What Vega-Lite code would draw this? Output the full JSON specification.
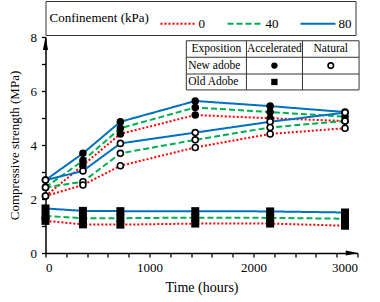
{
  "$schema": "https://vega.github.io/schema/vega-lite/v6.json",
  "width": 312,
  "height": 216,
  "autosize": {"type": "none"},
  "padding": {"left": 45.5, "top": 37, "right": 22.5, "bottom": 49},
  "config": {
    "font": "Liberation Serif",
    "view": {"stroke": null},
    "text": {"font": "Liberation Serif"},
    "axis": {"labelFont": "Liberation Serif", "titleFont": "Liberation Serif"},
    "legend": {
      "orient": "top",
      "direction": "horizontal",
      "titleOrient": "left",
      "titleFont": "Liberation Serif",
      "labelFont": "Liberation Serif",
      "titleFontSize": 13,
      "titleFontWeight": "normal",
      "titleColor": "black",
      "labelFontSize": 13,
      "labelColor": "black",
      "symbolType": "stroke",
      "symbolSize": 1225,
      "symbolStrokeWidth": 2,
      "strokeColor": "#333333",
      "fillColor": "white",
      "padding": 4,
      "offset": 2,
      "titlePadding": 10,
      "columnPadding": 18,
      "labelOffset": 2
    }
  },
  "data": {
    "values": [
      {"t": 0, "s": 1.65, "conf": "80", "sample": "Old Adobe", "exp": "Accelerated"},
      {"t": 360, "s": 1.56, "conf": "80", "sample": "Old Adobe", "exp": "Accelerated"},
      {"t": 720, "s": 1.55, "conf": "80", "sample": "Old Adobe", "exp": "Accelerated"},
      {"t": 1440, "s": 1.55, "conf": "80", "sample": "Old Adobe", "exp": "Accelerated"},
      {"t": 2160, "s": 1.54, "conf": "80", "sample": "Old Adobe", "exp": "Accelerated"},
      {"t": 2880, "s": 1.50, "conf": "80", "sample": "Old Adobe", "exp": "Accelerated"},
      {"t": 0, "s": 1.37, "conf": "40", "sample": "Old Adobe", "exp": "Accelerated"},
      {"t": 360, "s": 1.29, "conf": "40", "sample": "Old Adobe", "exp": "Accelerated"},
      {"t": 720, "s": 1.29, "conf": "40", "sample": "Old Adobe", "exp": "Accelerated"},
      {"t": 1440, "s": 1.31, "conf": "40", "sample": "Old Adobe", "exp": "Accelerated"},
      {"t": 2160, "s": 1.30, "conf": "40", "sample": "Old Adobe", "exp": "Accelerated"},
      {"t": 2880, "s": 1.27, "conf": "40", "sample": "Old Adobe", "exp": "Accelerated"},
      {"t": 0, "s": 1.19, "conf": "0", "sample": "Old Adobe", "exp": "Accelerated"},
      {"t": 360, "s": 1.06, "conf": "0", "sample": "Old Adobe", "exp": "Accelerated"},
      {"t": 720, "s": 1.05, "conf": "0", "sample": "Old Adobe", "exp": "Accelerated"},
      {"t": 1440, "s": 1.09, "conf": "0", "sample": "Old Adobe", "exp": "Accelerated"},
      {"t": 2160, "s": 1.09, "conf": "0", "sample": "Old Adobe", "exp": "Accelerated"},
      {"t": 2880, "s": 1.01, "conf": "0", "sample": "Old Adobe", "exp": "Accelerated"},
      {"t": 0, "s": 2.70, "conf": "80", "sample": "New adobe", "exp": "Accelerated"},
      {"t": 360, "s": 3.69, "conf": "80", "sample": "New adobe", "exp": "Accelerated"},
      {"t": 720, "s": 4.86, "conf": "80", "sample": "New adobe", "exp": "Accelerated"},
      {"t": 1440, "s": 5.63, "conf": "80", "sample": "New adobe", "exp": "Accelerated"},
      {"t": 2160, "s": 5.44, "conf": "80", "sample": "New adobe", "exp": "Accelerated"},
      {"t": 2880, "s": 5.22, "conf": "80", "sample": "New adobe", "exp": "Accelerated"},
      {"t": 0, "s": 2.43, "conf": "40", "sample": "New adobe", "exp": "Accelerated"},
      {"t": 360, "s": 3.42, "conf": "40", "sample": "New adobe", "exp": "Accelerated"},
      {"t": 720, "s": 4.62, "conf": "40", "sample": "New adobe", "exp": "Accelerated"},
      {"t": 1440, "s": 5.39, "conf": "40", "sample": "New adobe", "exp": "Accelerated"},
      {"t": 2160, "s": 5.22, "conf": "40", "sample": "New adobe", "exp": "Accelerated"},
      {"t": 2880, "s": 5.05, "conf": "40", "sample": "New adobe", "exp": "Accelerated"},
      {"t": 0, "s": 2.11, "conf": "0", "sample": "New adobe", "exp": "Accelerated"},
      {"t": 360, "s": 3.25, "conf": "0", "sample": "New adobe", "exp": "Accelerated"},
      {"t": 720, "s": 4.41, "conf": "0", "sample": "New adobe", "exp": "Accelerated"},
      {"t": 1440, "s": 5.11, "conf": "0", "sample": "New adobe", "exp": "Accelerated"},
      {"t": 2160, "s": 4.99, "conf": "0", "sample": "New adobe", "exp": "Accelerated"},
      {"t": 2880, "s": 4.89, "conf": "0", "sample": "New adobe", "exp": "Accelerated"},
      {"t": 0, "s": 2.70, "conf": "80", "sample": "New adobe", "exp": "Natural"},
      {"t": 360, "s": 3.04, "conf": "80", "sample": "New adobe", "exp": "Natural"},
      {"t": 720, "s": 4.06, "conf": "80", "sample": "New adobe", "exp": "Natural"},
      {"t": 1440, "s": 4.46, "conf": "80", "sample": "New adobe", "exp": "Natural"},
      {"t": 2160, "s": 4.86, "conf": "80", "sample": "New adobe", "exp": "Natural"},
      {"t": 2880, "s": 5.20, "conf": "80", "sample": "New adobe", "exp": "Natural"},
      {"t": 0, "s": 2.43, "conf": "40", "sample": "New adobe", "exp": "Natural"},
      {"t": 360, "s": 2.64, "conf": "40", "sample": "New adobe", "exp": "Natural"},
      {"t": 720, "s": 3.69, "conf": "40", "sample": "New adobe", "exp": "Natural"},
      {"t": 1440, "s": 4.19, "conf": "40", "sample": "New adobe", "exp": "Natural"},
      {"t": 2160, "s": 4.65, "conf": "40", "sample": "New adobe", "exp": "Natural"},
      {"t": 2880, "s": 4.89, "conf": "40", "sample": "New adobe", "exp": "Natural"},
      {"t": 0, "s": 2.11, "conf": "0", "sample": "New adobe", "exp": "Natural"},
      {"t": 360, "s": 2.52, "conf": "0", "sample": "New adobe", "exp": "Natural"},
      {"t": 720, "s": 3.23, "conf": "0", "sample": "New adobe", "exp": "Natural"},
      {"t": 1440, "s": 3.91, "conf": "0", "sample": "New adobe", "exp": "Natural"},
      {"t": 2160, "s": 4.41, "conf": "0", "sample": "New adobe", "exp": "Natural"},
      {"t": 2880, "s": 4.62, "conf": "0", "sample": "New adobe", "exp": "Natural"}
    ]
  },
  "layer": [
    {
      "mark": {"type": "line", "strokeWidth": 2},
      "encoding": {
        "x": {
          "field": "t", "type": "quantitative",
          "scale": {"domain": [0, 3000], "nice": false},
          "axis": {
            "orient": "bottom", "format": "d",
            "values": [0, 200, 400, 600, 800, 1000, 1200, 1400, 1600, 1800, 2000, 2200, 2400, 2600, 2800, 3000],
            "labelExpr": "datum.value % 1000 === 0 ? datum.label : ''",
            "title": "Time (hours)", "grid": false,
            "tickSize": 4, "tickColor": "black", "tickWidth": 1.3,
            "domainColor": "black", "domainWidth": 1.5,
            "labelFont": "Liberation Serif", "titleFont": "Liberation Serif",
            "labelFontSize": 13, "labelColor": "black", "labelPadding": 4,
            "titleFontSize": 14, "titleFontWeight": "normal", "titleColor": "black", "titlePadding": 6
          }
        },
        "y": {
          "field": "s", "type": "quantitative",
          "scale": {"domain": [0, 8], "nice": false},
          "axis": {
            "orient": "left", "format": "d",
            "values": [0, 0.5, 1, 1.5, 2, 2.5, 3, 3.5, 4, 4.5, 5, 5.5, 6, 6.5, 7, 7.5, 8],
            "labelExpr": "datum.value % 2 === 0 ? datum.label : ''",
            "title": "Compressive strength (MPa)", "grid": false,
            "tickSize": 4, "tickColor": "black", "tickWidth": 1.3,
            "domainColor": "black", "domainWidth": 1.5,
            "labelFont": "Liberation Serif", "titleFont": "Liberation Serif",
            "labelFontSize": 13, "labelColor": "black", "labelPadding": 5,
            "titleFontSize": 13, "titleFontWeight": "normal", "titleColor": "black", "titlePadding": 9
          }
        },
        "color": {
          "field": "conf", "type": "nominal", "title": "Confinement (kPa)",
          "scale": {"domain": ["0", "40", "80"], "range": ["#ff0000", "#00b050", "#0070c0"]}
        },
        "strokeDash": {
          "field": "conf", "type": "nominal", "title": "Confinement (kPa)",
          "scale": {"domain": ["0", "40", "80"], "range": [[2, 2], [6, 3], [1, 0]]}
        },
        "detail": [{"field": "sample"}, {"field": "exp"}]
      }
    },
    {
      "transform": [{"filter": "datum.sample === 'Old Adobe'"}],
      "mark": {"type": "point", "shape": "square", "filled": true, "color": "black", "size": 64, "opacity": 1},
      "encoding": {
        "x": {"field": "t", "type": "quantitative", "axis": null},
        "y": {"field": "s", "type": "quantitative", "axis": null}
      }
    },
    {
      "transform": [{"filter": "datum.sample === 'New adobe'"}],
      "mark": {"type": "point", "shape": "circle", "size": 36, "strokeWidth": 1.6, "stroke": "black", "opacity": 1},
      "encoding": {
        "x": {"field": "t", "type": "quantitative", "axis": null},
        "y": {"field": "s", "type": "quantitative", "axis": null},
        "fill": {
          "field": "exp", "type": "nominal", "legend": null,
          "scale": {"domain": ["Accelerated", "Natural"], "range": ["black", "white"]}
        }
      }
    },
    {
      "data": {"values": [{}]},
      "mark": {"type": "point", "shape": "M0,-1L0.4,1L-0.4,1Z", "filled": true, "color": "black", "size": 169, "opacity": 1},
      "encoding": {
        "x": {"datum": 0, "type": "quantitative", "axis": null},
        "y": {"datum": 7.76, "type": "quantitative", "axis": null}
      }
    },
    {
      "data": {"values": [{}]},
      "mark": {"type": "point", "shape": "M1,0L-1,-0.4L-1,0.4Z", "filled": true, "color": "black", "size": 144, "opacity": 1},
      "encoding": {
        "x": {"datum": 2945, "type": "quantitative", "axis": null},
        "y": {"datum": 0, "type": "quantitative", "axis": null}
      }
    },
    {
      "data": {"values": [{}]},
      "mark": {"type": "rect", "fill": "white", "stroke": "#333333", "strokeWidth": 1},
      "encoding": {
        "x": {"datum": 1354, "type": "quantitative", "axis": null},
        "x2": {"datum": 3015},
        "y": {"datum": 7.86, "type": "quantitative", "axis": null},
        "y2": {"datum": 6.04}
      }
    },
    {
      "data": {"values": [{}]},
      "mark": {"type": "rule", "color": "#333333", "strokeWidth": 1},
      "encoding": {
        "x": {"datum": 1354, "type": "quantitative", "axis": null},
        "x2": {"datum": 3015},
        "y": {"datum": 7.25, "type": "quantitative", "axis": null}
      }
    },
    {
      "data": {"values": [{}]},
      "mark": {"type": "rule", "color": "#333333", "strokeWidth": 1},
      "encoding": {
        "x": {"datum": 1354, "type": "quantitative", "axis": null},
        "x2": {"datum": 3015},
        "y": {"datum": 6.63, "type": "quantitative", "axis": null}
      }
    },
    {
      "data": {"values": [{}]},
      "mark": {"type": "rule", "color": "#333333", "strokeWidth": 1},
      "encoding": {
        "x": {"datum": 1932, "type": "quantitative", "axis": null},
        "y": {"datum": 7.86, "type": "quantitative", "axis": null},
        "y2": {"datum": 6.04}
      }
    },
    {
      "data": {"values": [{}]},
      "mark": {"type": "rule", "color": "#333333", "strokeWidth": 1},
      "encoding": {
        "x": {"datum": 2471, "type": "quantitative", "axis": null},
        "y": {"datum": 7.86, "type": "quantitative", "axis": null},
        "y2": {"datum": 6.04}
      }
    },
    {
      "data": {"values": [{}]},
      "mark": {"type": "text", "text": "Exposition", "font": "Liberation Serif", "fontSize": 11.5, "align": "center", "baseline": "middle", "color": "black"},
      "encoding": {
        "x": {"datum": 1643, "type": "quantitative", "axis": null},
        "y": {"datum": 7.555, "type": "quantitative", "axis": null}
      }
    },
    {
      "data": {"values": [{}]},
      "mark": {"type": "text", "text": "Accelerated", "font": "Liberation Serif", "fontSize": 11.5, "align": "center", "baseline": "middle", "color": "black"},
      "encoding": {
        "x": {"datum": 2201, "type": "quantitative", "axis": null},
        "y": {"datum": 7.555, "type": "quantitative", "axis": null}
      }
    },
    {
      "data": {"values": [{}]},
      "mark": {"type": "text", "text": "Natural", "font": "Liberation Serif", "fontSize": 11.5, "align": "center", "baseline": "middle", "color": "black"},
      "encoding": {
        "x": {"datum": 2743, "type": "quantitative", "axis": null},
        "y": {"datum": 7.555, "type": "quantitative", "axis": null}
      }
    },
    {
      "data": {"values": [{}]},
      "mark": {"type": "text", "text": "New adobe", "font": "Liberation Serif", "fontSize": 11.5, "align": "left", "baseline": "middle", "color": "black"},
      "encoding": {
        "x": {"datum": 1372, "type": "quantitative", "axis": null},
        "y": {"datum": 6.94, "type": "quantitative", "axis": null}
      }
    },
    {
      "data": {"values": [{}]},
      "mark": {"type": "text", "text": "Old Adobe", "font": "Liberation Serif", "fontSize": 11.5, "align": "left", "baseline": "middle", "color": "black"},
      "encoding": {
        "x": {"datum": 1372, "type": "quantitative", "axis": null},
        "y": {"datum": 6.335, "type": "quantitative", "axis": null}
      }
    },
    {
      "data": {"values": [{}]},
      "mark": {"type": "point", "shape": "circle", "filled": true, "color": "black", "size": 40, "opacity": 1},
      "encoding": {
        "x": {"datum": 2201, "type": "quantitative", "axis": null},
        "y": {"datum": 6.94, "type": "quantitative", "axis": null}
      }
    },
    {
      "data": {"values": [{}]},
      "mark": {"type": "point", "shape": "circle", "fill": "white", "stroke": "black", "strokeWidth": 1.6, "size": 30, "opacity": 1},
      "encoding": {
        "x": {"datum": 2743, "type": "quantitative", "axis": null},
        "y": {"datum": 6.94, "type": "quantitative", "axis": null}
      }
    },
    {
      "data": {"values": [{}]},
      "mark": {"type": "point", "shape": "square", "filled": true, "color": "black", "size": 40, "opacity": 1},
      "encoding": {
        "x": {"datum": 2201, "type": "quantitative", "axis": null},
        "y": {"datum": 6.335, "type": "quantitative", "axis": null}
      }
    }
  ],
  "resolve": {"axis": {"x": "independent", "y": "independent"}}
}
